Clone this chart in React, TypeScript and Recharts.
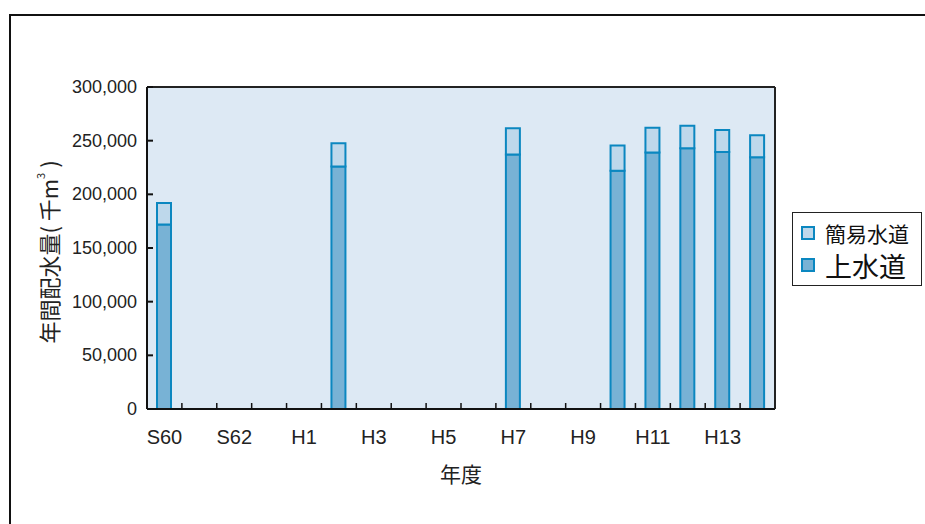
import React from 'react';
import { BarChart, Bar, XAxis, YAxis, CartesianGrid, ReferenceLine } from 'recharts';

// 年度ごとの配水量（千m³）。値のない年度は null
const years = ['S60', 'S61', 'S62', 'S63', 'H1', 'H2', 'H3', 'H4', 'H5', 'H6', 'H7', 'H8', 'H9', 'H10', 'H11', 'H12', 'H13', 'H14'];
const jousuidou = [172000, null, null, null, null, 226000, null, null, null, null, 237000, null, null, 222000, 239000, 243000, 239500, 234500];
const kanisuidou = [20000, null, null, null, null, 21500, null, null, null, null, 24500, null, null, 23500, 23000, 21000, 20500, 20500];
const yTicks = [0, 50000, 100000, 150000, 200000, 250000, 300000];
const legendItems = [
  { label: '簡易水道', key: 'kanisuidou' },
  { label: '上水道', key: 'jousuidou' },
];

const data = years.map((year, i) => ({ year, jousuidou: jousuidou[i], kanisuidou: kanisuidou[i] }));

const W = 925;
const H = 524;
const PLOT_LEFT = 147;
const PLOT_TOP = 87;
const PLOT_RIGHT = 775;
const PLOT_BOTTOM = 409;
const BAND = (PLOT_RIGHT - PLOT_LEFT) / years.length;

const LATIN = '"Liberation Sans", Arial, sans-serif';
const CJK = '"Noto Sans CJK JP", sans-serif';

const FILL_LOW = '#78b2d5';
const FILL_HIGH = '#bed8eb';
const EDGE = '#0b87c0';
const FILLS: Record<string, string> = { jousuidou: FILL_LOW, kanisuidou: FILL_HIGH };

function YTick({ y, payload }: any) {
  return (
    <g>
      <line x1={PLOT_LEFT} x2={PLOT_LEFT + 6} y1={y} y2={y} stroke="#111" strokeWidth={2} />
      <text x={PLOT_LEFT - 10} y={y} dy={6} textAnchor="end" fontFamily={LATIN} fontSize={18} fill="#222">
        {Number(payload.value).toLocaleString('en-US')}
      </text>
    </g>
  );
}

function XTick({ x, payload, index }: any) {
  const edge = x + BAND / 2;
  return (
    <g>
      {index < years.length - 1 && (
        <line x1={edge} x2={edge} y1={PLOT_BOTTOM} y2={PLOT_BOTTOM - 6} stroke="#111" strokeWidth={1.5} />
      )}
      {index % 2 === 0 && (
        <text x={x} y={PLOT_BOTTOM + 35} textAnchor="middle" fontFamily={LATIN} fontSize={20} fill="#222">
          {payload.value}
        </text>
      )}
    </g>
  );
}

function YTitle() {
  const cx = 48;
  const cy = 252;
  return (
    <text
      x={cx}
      y={cy}
      transform={`rotate(-90 ${cx} ${cy})`}
      textAnchor="middle"
      dominantBaseline="central"
      fontFamily={CJK}
      fontSize={22}
      fill="#222"
    >
      年間配水量( 千m
      <tspan fontSize={11} dy={-8}>3</tspan>
      <tspan dy={8}> )</tspan>
    </text>
  );
}

function XTitle() {
  return (
    <text x={(PLOT_LEFT + PLOT_RIGHT) / 2} y={482} textAnchor="middle" fontFamily={CJK} fontSize={21} fill="#222">
      年度
    </text>
  );
}

function LegendBox() {
  return (
    <div
      style={{
        position: 'absolute',
        left: 792,
        top: 212,
        width: 130,
        height: 74,
        border: '1px solid #222',
        background: '#fff',
        boxSizing: 'border-box',
        padding: '6px 0 0 8px',
        fontFamily: CJK,
        color: '#111',
      }}
    >
      {legendItems.map((item, i) => (
        <div
          key={item.key}
          style={{ display: 'flex', alignItems: 'center', height: i === 0 ? 28 : 36, fontSize: i === 0 ? 21 : 27, lineHeight: 1 }}
        >
          <span
            style={{
              display: 'inline-block',
              width: 10,
              height: 10,
              background: FILLS[item.key],
              border: `2px solid ${EDGE}`,
              marginRight: 10,
              flexShrink: 0,
            }}
          />
          {item.label}
        </div>
      ))}
    </div>
  );
}

export default function App() {
  return (
    <div style={{ position: 'absolute', left: 0, top: 0, width: W, height: H, overflow: 'hidden', background: '#fff' }}>
      {/* outer frame, its right and bottom sides run past the page edge */}
      <div style={{ position: 'absolute', left: 9, top: 14, width: 1000, height: 600, border: '2px solid #111' }} />
      <div style={{ position: 'absolute', left: 0, top: 0 }}>
        <BarChart
          width={W}
          height={H}
          data={data}
          margin={{ top: PLOT_TOP, left: PLOT_LEFT - 80, right: W - PLOT_RIGHT - 1, bottom: H - PLOT_BOTTOM - 40 }}
          barCategoryGap={0}
        >
          <CartesianGrid vertical={false} stroke="#5e5e5e" strokeWidth={1.5} fill="#dde9f4" fillOpacity={1} />
          <XAxis
            dataKey="year"
            interval={0}
            height={40}
            tick={<XTick />}
            tickLine={false}
            axisLine={{ stroke: '#111', strokeWidth: 2 }}
            label={<XTitle />}
          />
          <YAxis
            yAxisId="left"
            width={80}
            domain={[0, 300000]}
            ticks={yTicks}
            tick={<YTick />}
            tickLine={false}
            axisLine={{ stroke: '#111', strokeWidth: 2 }}
            label={<YTitle />}
          />
          <YAxis
            yAxisId="right"
            orientation="right"
            width={1}
            domain={[0, 300000]}
            tick={false}
            tickLine={false}
            axisLine={{ stroke: '#222', strokeWidth: 2 }}
          />
          <ReferenceLine yAxisId="left" y={300000} stroke="#222" strokeWidth={2} />
          <Bar
            yAxisId="left"
            dataKey="jousuidou"
            stackId="a"
            barSize={14}
            fill={FILL_LOW}
            stroke={EDGE}
            strokeWidth={2}
            isAnimationActive={false}
          />
          <Bar
            yAxisId="left"
            dataKey="kanisuidou"
            stackId="a"
            barSize={14}
            fill={FILL_HIGH}
            stroke={EDGE}
            strokeWidth={2}
            isAnimationActive={false}
          />
        </BarChart>
      </div>
      <LegendBox />
    </div>
  );
}
